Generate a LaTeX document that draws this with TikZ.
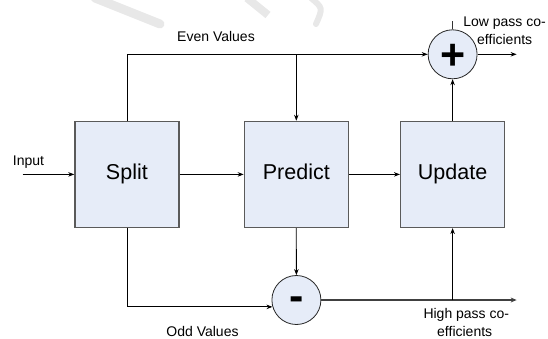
\documentclass[tikz,border=0pt]{standalone}
\usepackage{fontspec}
\setmainfont{Liberation Sans}
\usetikzlibrary{arrows.meta,calc}
\definecolor{boxfill}{RGB}{230,236,248}
\definecolor{boxline}{RGB}{90,90,90}
\definecolor{wm}{RGB}{232,232,232}
\begin{document}
\begin{tikzpicture}[x=1pt,y=-1pt,
  blockbox/.style={draw=boxline,line width=1.3pt,fill=boxfill,minimum width=104pt,minimum height=106pt,inner sep=0pt,text height=15.5pt,text depth=4.5pt,font=\fontsize{21.5}{24}\selectfont},
  sumcirc/.style={circle,draw=black!85,line width=0.8pt,fill=boxfill,minimum size=49pt,inner sep=0pt,font=\fontsize{43}{43}\selectfont\bfseries},
  lbl/.style={font=\fontsize{14}{16}\selectfont,inner sep=0pt,anchor=base},
  conn/.style={line width=0.8pt,-{Stealth[length=6pt,width=4.5pt]}},
  plainconn/.style={line width=0.8pt}]
\useasboundingbox (0,0) rectangle (548,338);
% faint watermark strokes
\draw[wm,line width=9pt,line cap=round] (95,-2) -- (160,24);
\draw[wm,line width=8pt] (247,-2) -- (268,15);
\draw[wm,line width=6pt,line cap=round] (311,-2) .. controls (323,8) .. (316,24);
% blocks
\node[blockbox] (split) at (126.9,174.4) {Split};
\node[blockbox] (predict) at (296.3,174.4) {Predict};
\node[blockbox] (update) at (452.6,174.4) {Update};
\node[sumcirc,text height=31pt,text depth=0pt] (plus) at (452.6,54.3) {+};
\node[sumcirc,text height=20pt,text depth=0pt] (minus) at (296.4,300) {-};
% coordinates
\coordinate (inp) at (22.7,174.4);
\coordinate (lowout) at (516.6,54.3);
\coordinate (highout) at (516.6,300);
\coordinate (j1) at (predict.north |- plus.west);
\coordinate (j2) at (update.south |- minus.east);
% connectors
\draw[conn] (inp) -- (split);
\draw[conn] (split) -- (predict);
\draw[conn] (predict) -- (update);
\draw[conn] (split.north) |- (plus.west);
\draw[conn] (j1) -- (predict.north);
\draw[conn] (update.north) -- (plus.south);
\draw[conn] (plus.east) -- (lowout);
\draw[plainconn,black!80] (plus.north) -- ++(0,-8);
\draw[conn] (predict.south) -- (minus.north);
\draw[conn] (split.south) |- (minus.196);
\draw[line width=1.5pt,black!75,-{Stealth[length=6pt,width=5pt]}] (minus.east) -- (highout);
\draw[conn] (j2) -- (update.south);
% labels
\node[lbl] (lin) at (28.5,165.5) {Input};
\node[lbl] (leven) at (216,41.3) {Even Values};
\node[lbl] (lodd) at (202.5,336) {Odd Values};
\node[lbl] (llow1) at (504.5,26.7) {Low pass co-};
\node[lbl] (llow2) at (504.7,44.3) {efficients};
\node[lbl] (lhigh1) at (466.3,318.3) {High pass co-};
\node[lbl] (lhigh2) at (464.7,336) {efficients};
\end{tikzpicture}
\end{document}
